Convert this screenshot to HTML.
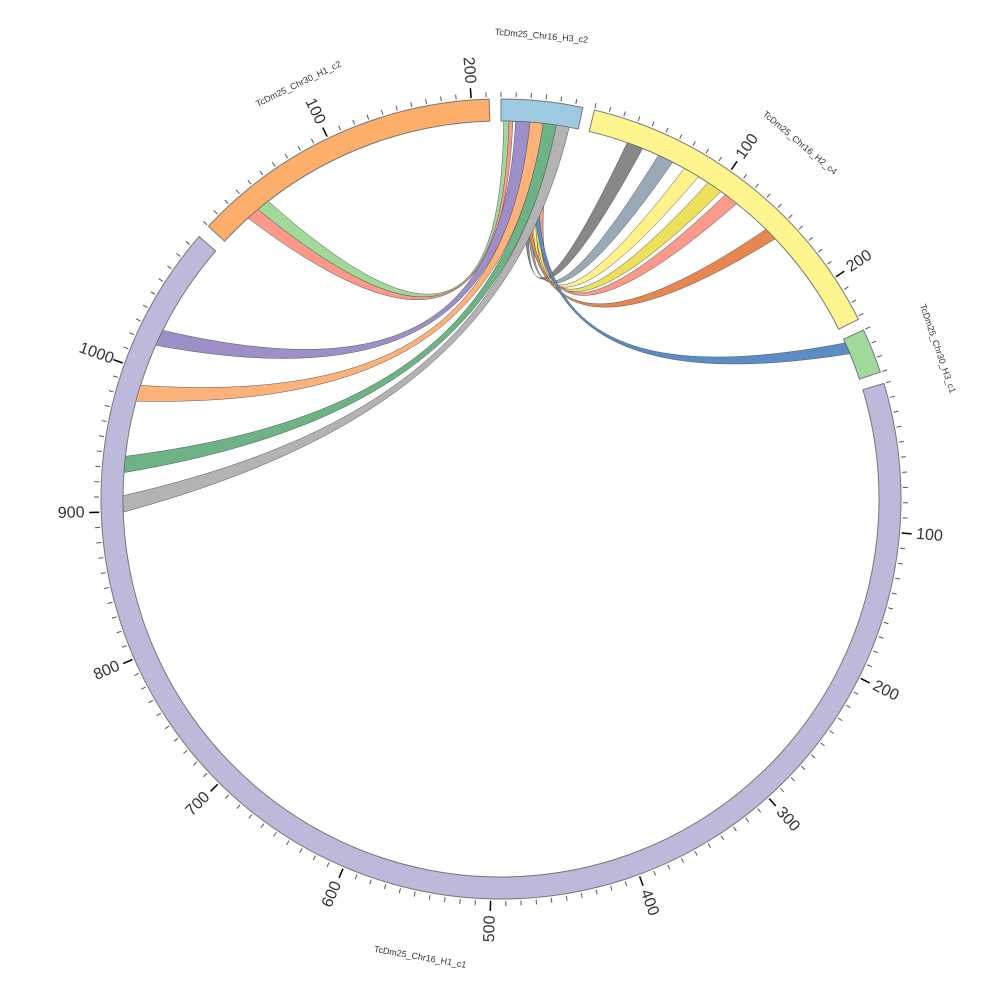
<!DOCTYPE html>
<html><head><meta charset="utf-8"><style>body{margin:0;background:#fff}svg{display:block}</style></head>
<body>
<svg id="s" width="1000" height="1000" xmlns="http://www.w3.org/2000/svg" font-family="Liberation Sans, sans-serif"></svg>
<script>
const cx=501,cy=499,R0=378,R1=400;
const S=document.getElementById('s');let h='';
const rad=a=>a*Math.PI/180;
const pt=(a,r)=>[cx+r*Math.sin(rad(a)),cy-r*Math.cos(rad(a))];
function arcPath(a0,a1,r0,r1){const[p,q]=[pt(a0,r1),pt(a1,r1)],[u,v]=[pt(a1,r0),pt(a0,r0)];const l=(a1-a0)>180?1:0;
return `M${p}A${r1},${r1} 0 ${l} 1 ${q}L${u}A${r0},${r0} 0 ${l} 0 ${v}Z`;}
const segs=[
 {n:'TcDm25_Chr16_H3_c2',a0:0,a1:11.8,len:55,c:'#9ecae1',la:5,lr:465},
 {n:'TcDm25_Chr16_H2_c4',a0:13.5,a1:63.3,len:232,c:'#fff58f',la:40,lr:465},
 {n:'TcDm25_Chr30_H3_c1',a0:65,a1:71.5,len:30,c:'#a1d99b',la:71,lr:462},
 {n:'TcDm25_Chr16_H1_c1',a0:73.2,a1:311,len:1098,c:'#bcb9da',la:190,lr:465},
 {n:'TcDm25_Chr30_H1_c2',a0:313,a1:358.3,len:212,c:'#fdae6b',la:334,lr:462}
];
for(const s of segs){
 h+=`<path d="${arcPath(s.a0,s.a1,R0,R1)}" fill="${s.c}" stroke="#777" stroke-width="1"/>`;
 const k=(s.a1-s.a0)/s.len;
 for(let v=0;v<=s.len;v+=10){const a=s.a0+v*k;const maj=v%100==0&&v>0;
  const[p,q]=[pt(a,R1+2),pt(a,R1+(maj?12:7))];
  h+=`<line x1="${p[0]}" y1="${p[1]}" x2="${q[0]}" y2="${q[1]}" stroke="${maj?'#000':'#555'}" stroke-width="${maj?1.5:1}"/>`;
  if(maj){const[x,y]=pt(a,R1+30);let rot=a<180?a-90:a-270;
   h+=`<text x="${x}" y="${y}" font-size="16" fill="#333" text-anchor="middle" dominant-baseline="central" transform="rotate(${rot} ${x} ${y})">${v}</text>`;}
 }
 const[x,y]=pt(s.la,s.lr);let rot=s.la<=90?s.la:(s.la<270?s.la-180:s.la-360);
 h+=`<text x="${x}" y="${y}" font-size="9" fill="#333" text-anchor="middle" dominant-baseline="central" transform="rotate(${rot} ${x} ${y})">${s.n}</text>`;
}
function chord(a0,a1,b0,b1,c){
 const r=R0;const[p0,p1]=[pt(a0,r),pt(a1,r)],[q0,q1]=[pt(b0,r),pt(b1,r)];
 const L=(p,t)=>[p[0]+(cx-p[0])*t,p[1]+(cy-90-p[1])*t];
 const t=0.7;
 return `<path d="M${p0}A${r},${r} 0 0 1 ${p1}C${L(p1,t)} ${L(q0,t)} ${q0}A${r},${r} 0 0 1 ${q1}C${L(q1,t)} ${L(p0,t)} ${p0}Z" fill="${c}" stroke="#555" stroke-width="0.5"/>`;
}
const ch=[
 [318,320,0.8,1.8,'#fb9a8a'],
 [320,322,0.4,1.2,'#a1d99b'],
 [19.5,22,4.5,5.6,'#888888'],
 [24.6,27,5,6.2,'#9aa9b8'],
 [29,31.5,6,7,'#fff28a'],
 [33.2,35.6,6.4,7.6,'#ede05a'],
 [36.4,38.6,7,8.2,'#fb9a8a'],
 [44.5,46.5,3.8,4.8,'#e7874f'],
 [65.6,67.4,5.5,6.5,'#5b8cc6'],
 [268,270.5,8.4,10.4,'#b3b3b3'],
 [274,276.5,6.4,8.4,'#6db386'],
 [285,287.5,4.4,6.4,'#fdb27a'],
 [294,296.5,2.2,4.4,'#9e8fc8']
];
for(const c of ch)h+=chord(...c);
S.innerHTML=h;
</script>
</body></html>
